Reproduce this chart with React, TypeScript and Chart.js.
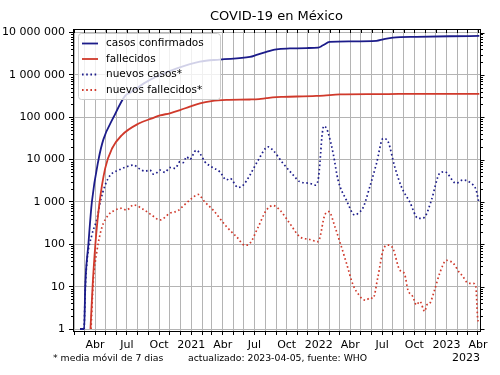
import React, { useEffect, useRef } from "react";
import { Chart, registerables } from "chart.js";

Chart.register(...registerables);

// ---------- DATA ----------
const casesDates = [
  "2020-02-18", "2020-03-01", "2020-03-04", "2020-03-13", "2020-03-23", "2020-04-11", "2020-04-25",
  "2020-05-24", "2020-06-26", "2020-07-10", "2020-09-05", "2020-11-19", "2021-01-26", "2021-03-24",
  "2021-06-18", "2021-07-07", "2021-08-04", "2021-09-02", "2021-10-10", "2021-11-27", "2021-12-30",
  "2022-01-13", "2022-02-01", "2022-03-31", "2022-06-15", "2022-07-04", "2022-08-01", "2022-10-07",
  "2023-01-10", "2023-04-05",
];
const casesValues = [
  1, 1, 10, 100, 1000, 10000, 30000,
  100000, 320000, 380000, 760000, 1400000, 2050000, 2300000,
  2650000, 2950000, 3500000, 4000000, 4200000, 4300000, 4400000,
  5000000, 6000000, 6200000, 6350000, 6900000, 7600000, 7900000,
  8150000, 8300000,
];

const deathsDates = [
  "2020-03-19", "2020-03-25", "2020-04-02", "2020-04-13", "2020-04-30", "2020-05-20", "2020-06-17",
  "2020-08-04", "2020-09-11", "2020-10-04", "2020-11-01", "2020-11-30", "2020-12-28", "2021-01-26",
  "2021-02-28", "2021-04-12", "2021-06-18", "2021-07-14", "2021-08-04", "2021-09-02", "2021-09-21",
  "2021-12-25", "2022-01-15", "2022-03-02", "2022-06-19", "2022-08-18", "2023-04-05",
];
const deathsValues = [
  1, 10, 100, 850, 6200, 18500, 38000,
  71000, 94000, 110000, 124000, 147000, 178000, 213000,
  240000, 256000, 262000, 268000, 282000, 298000, 302000,
  318000, 325000, 345000, 350000, 354000, 356000,
];

const newCasesDates = [
  "2020-03-01", "2020-03-04", "2020-03-09", "2020-03-23", "2020-04-07", "2020-04-16", "2020-04-30",
  "2020-05-15", "2020-06-08", "2020-07-01", "2020-07-21", "2020-08-04", "2020-08-22", "2020-09-05",
  "2020-09-15", "2020-09-25", "2020-10-04", "2020-10-18", "2020-11-01", "2020-11-16", "2020-11-30",
  "2020-12-09", "2020-12-19", "2020-12-28", "2021-01-15", "2021-01-26", "2021-02-09", "2021-02-28",
  "2021-03-24", "2021-04-12", "2021-04-22", "2021-05-15", "2021-05-30", "2021-06-18", "2021-07-12",
  "2021-08-09", "2021-08-23", "2021-09-21", "2021-10-20", "2021-11-08", "2021-12-06", "2021-12-21",
  "2021-12-30", "2022-01-04", "2022-01-10", "2022-01-15", "2022-01-21", "2022-01-27", "2022-02-11",
  "2022-02-25", "2022-03-21", "2022-04-14", "2022-04-28", "2022-05-07", "2022-05-27", "2022-06-15",
  "2022-07-04", "2022-07-18", "2022-08-06", "2022-08-25", "2022-09-18", "2022-10-12", "2022-10-21",
  "2022-10-31", "2022-11-19", "2022-12-13", "2022-12-27", "2023-01-29", "2023-02-17", "2023-03-13",
  "2023-03-27", "2023-04-04",
];
const newCasesValues = [
  1, 8, 39, 166, 409, 1010, 2500,
  4300, 5650, 6800, 7400, 6200, 5300, 5650,
  4500, 4900, 5650, 5000, 6500, 6200, 8900,
  8500, 11700, 10000, 16600, 14000, 8900, 6800,
  5150, 3300, 3600, 2200, 2500, 4300, 9800,
  20000, 16600, 8100, 4300, 3000, 2750, 2500,
  3300, 8000, 35000, 62000, 58000, 45000, 14000,
  3300, 1100, 490, 580, 710, 2300, 8100,
  31700, 26500, 6800, 2300, 1000, 410, 410,
  440, 1100, 4780, 5150, 2750, 3300, 2750,
  1900, 940,
];

const newDeathsDates = [
  "2020-03-20", "2020-03-27", "2020-04-06", "2020-04-20", "2020-05-09", "2020-05-28", "2020-06-16",
  "2020-06-30", "2020-07-20", "2020-08-12", "2020-09-10", "2020-10-04", "2020-11-01", "2020-11-24",
  "2020-12-09", "2021-01-02", "2021-01-21", "2021-01-26", "2021-02-09", "2021-03-05", "2021-04-12",
  "2021-05-11", "2021-06-04", "2021-06-18", "2021-07-12", "2021-08-04", "2021-08-23", "2021-09-12",
  "2021-10-10", "2021-11-08", "2021-12-06", "2021-12-30", "2022-01-18", "2022-01-30", "2022-02-16",
  "2022-03-02", "2022-03-21", "2022-04-09", "2022-04-28", "2022-05-07", "2022-05-17", "2022-05-27",
  "2022-06-05", "2022-06-19", "2022-07-04", "2022-07-18", "2022-08-01", "2022-08-20", "2022-09-03",
  "2022-09-13", "2022-09-27", "2022-10-07", "2022-10-17", "2022-10-31", "2022-11-06", "2022-11-14",
  "2022-11-28", "2022-12-13", "2023-01-01", "2023-01-10", "2023-01-20", "2023-02-08", "2023-02-16",
  "2023-02-27", "2023-03-08", "2023-03-18", "2023-03-26", "2023-04-01", "2023-04-04",
];
const newDeathsValues = [
  0.8, 13, 66, 240, 490, 640, 710,
  640, 850, 710, 490, 375, 540, 620,
  800, 1200, 1500, 1400, 1000, 640, 260,
  150, 95, 105, 260, 640, 820, 640,
  310, 150, 130, 115, 490, 590, 260,
  115, 36, 11, 6, 5, 4.8, 5.5,
  5.3, 17, 73, 96, 80, 25, 20,
  8.3, 5.8, 3.7, 4.5, 2.6, 3.7, 4,
  8.3, 21, 42, 40, 36, 21, 18,
  13, 12, 12, 10, 1.6, 1.5,
];

const yTickValues = [1, 10, 100, 1000, 10000, 100000, 1000000, 10000000];
const monthLabels = ["", "", "", "Abr", "", "", "Jul", "", "", "Oct", "", ""];

const legendLabels = ["casos confirmados", "fallecidos", "nuevos casos*", "nuevos fallecidos*"];
const titleText = "COVID-19 en México";
const footLeft = "* media móvil de 7 dias";
const footMid = "actualizado: 2023-04-05, fuente: WHO";
const footYear = "2023";

// ---------- helpers ----------
const DAY0 = Date.UTC(2020, 0, 1);
const toDay = (s: string) => (Date.parse(s) - DAY0) / 86400000;
const pts = (d: string[], v: number[]) => d.map((s, i) => ({ x: toDay(s), y: v[i] }));
const fmt = (v: number) => String(Math.round(v)).replace(/\B(?=(\d{3})+(?!\d))/g, " ");

const X_MIN = 28;
const X_MAX = 1192;
const Y_MIN = 0.897;
const Y_MAX = 1.21e7;

const monthTicks: { value: number; label: string }[] = [];
for (let yr = 2020; yr <= 2023; yr++) {
  for (let m = 0; m < 12; m++) {
    const v = (Date.UTC(yr, m, 1) - DAY0) / 86400000;
    if (v >= X_MIN && v <= X_MAX) {
      monthTicks.push({ value: v, label: m === 0 ? String(yr) : monthLabels[m] });
    }
  }
}

const FONT = "DejaVu Sans";
const BLUE = "#1c1c8a";
const RED = "#d0392b";
const GRID = "#b4b4b4";
const DOT = [1.6, 2.6];

const decor = {
  id: "decor",
  afterDraw(chart: any) {
    const { ctx, chartArea: a, scales } = chart;
    const xs = scales.x;
    const ys = scales.y;
    const L = Math.floor(a.left) + 0.5;
    const R = Math.floor(a.right) + 0.5;
    const T = Math.floor(a.top) + 0.5;
    const B = Math.floor(a.bottom) + 0.5;
    ctx.save();
    ctx.strokeStyle = "#000";
    ctx.lineWidth = 1;
    ctx.setLineDash([]);
    ctx.strokeRect(L, T, R - L, B - T);

    // top inward month ticks
    ctx.beginPath();
    for (const t of monthTicks) {
      const px = Math.round(xs.getPixelForValue(t.value)) + 0.5;
      ctx.moveTo(px, T);
      ctx.lineTo(px, T + 3.5);
    }
    // y major ticks on right, minor ticks both sides
    for (const v of yTickValues) {
      const py = Math.round(ys.getPixelForValue(v)) + 0.5;
      ctx.moveTo(R, py);
      ctx.lineTo(R + 4, py);
      if (v < 1e7) {
        for (let k = 2; k <= 9; k++) {
          const q = Math.round(ys.getPixelForValue(v * k)) + 0.5;
          ctx.moveTo(L - 2.5, q);
          ctx.lineTo(L, q);
          ctx.moveTo(R, q);
          ctx.lineTo(R + 2.5, q);
        }
      }
    }
    ctx.stroke();

    // legend
    const lx = 78.5, ly = 33.5, lw = 142, lh = 66;
    ctx.fillStyle = "rgba(255,255,255,0.8)";
    ctx.strokeStyle = "#cccccc";
    ctx.beginPath();
    (ctx as any).roundRect(lx, ly, lw, lh, 3);
    ctx.fill();
    ctx.stroke();
    const rows = [43.5, 59, 74.5, 90];
    const cols = [BLUE, RED, BLUE, RED];
    ctx.font = `10.5px "${FONT}"`;
    ctx.textBaseline = "middle";
    ctx.textAlign = "left";
    rows.forEach((ry, i) => {
      ctx.beginPath();
      ctx.strokeStyle = cols[i];
      ctx.lineWidth = 1.8;
      ctx.setLineDash(i >= 2 ? DOT : []);
      ctx.moveTo(82, ry);
      ctx.lineTo(98, ry);
      ctx.stroke();
      ctx.fillStyle = "#000";
      ctx.fillText(legendLabels[i], 106, ry);
    });
    ctx.setLineDash([]);

    // title
    ctx.fillStyle = "#000";
    ctx.font = `13px "${FONT}"`;
    ctx.textAlign = "center";
    ctx.fillText(titleText, (a.left + a.right) / 2, 17);

    // footnotes
    ctx.font = `9.3px "${FONT}"`;
    ctx.textAlign = "left";
    ctx.fillText(footLeft, 53, 358.5);
    ctx.fillText(footMid, 188, 358.5);
    ctx.font = `11px "${FONT}"`;
    ctx.textAlign = "center";
    ctx.fillText(footYear, 466, 358.5);
    ctx.restore();
  },
};

export default function App() {
  const ref = useRef<HTMLCanvasElement>(null);
  useEffect(() => {
    const chart = new Chart(ref.current as HTMLCanvasElement, {
      type: "line",
      data: {
        datasets: [
          {
            label: legendLabels[0],
            data: pts(casesDates, casesValues),
            borderColor: BLUE,
            borderWidth: 1.8,
            pointRadius: 0,
            cubicInterpolationMode: "monotone",
          },
          {
            label: legendLabels[1],
            data: pts(deathsDates, deathsValues),
            borderColor: RED,
            borderWidth: 1.8,
            pointRadius: 0,
            cubicInterpolationMode: "monotone",
          },
          {
            label: legendLabels[2],
            data: pts(newCasesDates, newCasesValues),
            borderColor: BLUE,
            borderWidth: 1.7,
            borderDash: DOT,
            borderCapStyle: "butt",
            pointRadius: 0,
            cubicInterpolationMode: "monotone",
          },
          {
            label: legendLabels[3],
            data: pts(newDeathsDates, newDeathsValues),
            borderColor: RED,
            borderWidth: 1.7,
            borderDash: DOT,
            borderCapStyle: "butt",
            pointRadius: 0,
            cubicInterpolationMode: "monotone",
          },
        ],
      },
      options: {
        responsive: false,
        animation: false,
        devicePixelRatio: 1,
        events: [],
        layout: { padding: { top: 29, right: 20, bottom: 14, left: 0 } },
        plugins: {
          legend: { display: false },
          title: { display: false },
          tooltip: { enabled: false },
        },
        scales: {
          x: {
            type: "linear",
            min: X_MIN,
            max: X_MAX,
            bounds: "data",
            afterBuildTicks: (s: any) => {
              s.ticks = monthTicks.map((t) => ({ value: t.value }));
            },
            afterFit: (s: any) => {
              s.height = 30;
            },
            ticks: {
              autoSkip: false,
              maxRotation: 0,
              minRotation: 0,
              padding: 3.5,
              color: "#000",
              font: { family: FONT, size: 11 },
              callback: (_v: any, i: number) => (monthTicks[i] ? monthTicks[i].label : ""),
            },
            grid: { color: GRID, lineWidth: 1, drawTicks: true, tickLength: 4, tickColor: "#000" },
            border: { display: false },
          },
          y: {
            type: "logarithmic",
            min: Y_MIN,
            max: Y_MAX,
            bounds: "data",
            afterBuildTicks: (s: any) => {
              s.ticks = yTickValues.map((v) => ({ value: v, major: true }));
            },
            afterFit: (s: any) => {
              s.width = 73;
            },
            ticks: {
              autoSkip: false,
              padding: 4,
              color: "#000",
              font: { family: FONT, size: 11 },
              callback: (v: any) => fmt(Number(v)),
            },
            grid: { color: GRID, lineWidth: 1, drawTicks: true, tickLength: 4, tickColor: "#000" },
            border: { display: false },
          },
        },
      } as any,
      plugins: [decor],
    });
    return () => chart.destroy();
  }, []);
  return (
    <div style={{ position: "absolute", left: 0, top: 0, width: 500, height: 375, background: "#fff" }}>
      <canvas ref={ref} width={500} height={375} style={{ display: "block" }} />
    </div>
  );
}
